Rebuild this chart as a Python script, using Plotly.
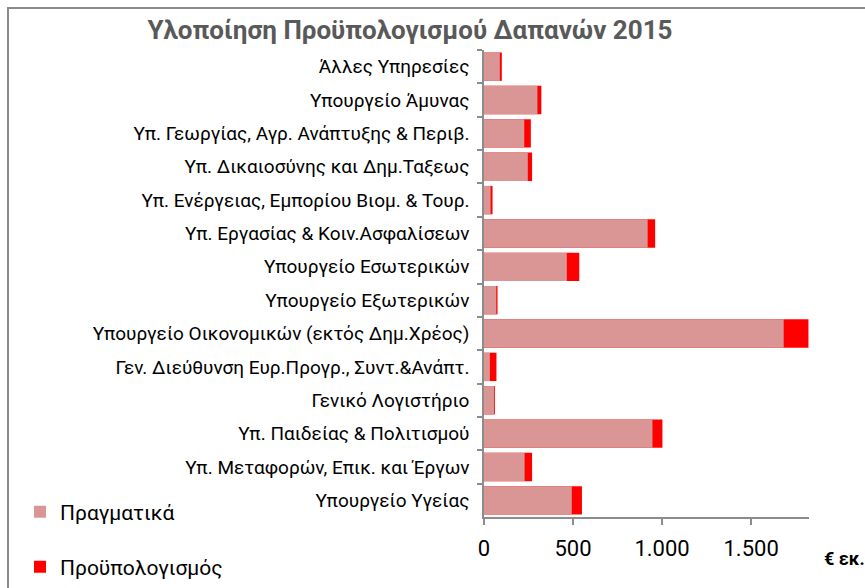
import plotly.graph_objects as go

categories = [
    "Άλλες Υπηρεσίες",
    "Υπουργείο Άμυνας",
    "Υπ. Γεωργίας, Αγρ. Ανάπτυξης & Περιβ.",
    "Υπ. Δικαιοσύνης και Δημ.Ταξεως",
    "Υπ. Ενέργειας, Εμπορίου Βιομ. & Τουρ.",
    "Υπ. Εργασίας & Κοιν.Ασφαλίσεων",
    "Υπουργείο Εσωτερικών",
    "Υπουργείο Εξωτερικών",
    "Υπουργείο Οικονομικών (εκτός Δημ.Χρέος)",
    "Γεν. Διεύθυνση Ευρ.Προγρ., Συντ.&Ανάπτ.",
    "Γενικό Λογιστήριο",
    "Υπ. Παιδείας & Πολιτισμού",
    "Υπ. Μεταφορών, Επικ. και Έργων",
    "Υπουργείο Υγείας",
]
actual = [89, 300, 226, 246, 37, 919, 465, 69, 1683, 33, 56, 946, 228, 493]
budget = [100, 322, 263, 270, 48, 961, 535, 76, 1822, 70, 61, 1002, 270, 550]
x_tickvals = [0, 500, 1000, 1500]
x_ticktext = ["0", "500", "1.000", "1.500"]

FONT = "Roboto"
AXIS = "#8c8c8c"

fig = go.Figure()
fig.add_trace(go.Bar(
    y=categories, x=budget, orientation="h", name="Προϋπολογισμός",
    marker=dict(color="#FF0000", line=dict(width=0)), legend="legend2",
))
fig.add_trace(go.Bar(
    y=categories, x=actual, orientation="h", name="Πραγματικά",
    marker=dict(color="#D99694", line=dict(width=0)), legend="legend",
))

L, R, T, B = 484, 56, 50, 71
W, H = 865, 588
pw = W - L - R
ph = H - T - B

def px_x(p):
    return (p - L) / pw

def px_y(p):
    return 1 - (p - T) / ph

fig.update_layout(
    width=W, height=H,
    margin=dict(l=L, r=R, t=T, b=B, autoexpand=False),
    paper_bgcolor="white", plot_bgcolor="white",
    barmode="overlay", bargap=0.15,
    font=dict(family=FONT, color="#000000"),
    title=dict(
        text="<b>Υλοποίηση Προϋπολογισμού Δαπανών 2015</b>",
        font=dict(size=26, color="#595959", family=FONT),
        x=410 / W, xanchor="center", xref="container",
        y=1 - 30 / H, yanchor="middle", yref="container",
    ),
    xaxis=dict(
        range=[0, 1825], tickvals=x_tickvals, ticktext=x_ticktext,
        showgrid=False, zeroline=False, showline=True, linecolor=AXIS, linewidth=1.5,
        ticks="outside", ticklen=6, tickcolor=AXIS, tickwidth=1.5,
        tickfont=dict(size=22, family=FONT), ticklabelstandoff=5,
    ),
    yaxis=dict(
        autorange="reversed", showgrid=False, zeroline=False,
        showline=True, linecolor=AXIS, linewidth=1.5,
        ticks="outside", ticklen=5, tickcolor=AXIS, tickwidth=1.5,
        tickson="boundaries", tickfont=dict(size=19, family=FONT),
        ticklabelstandoff=9,
    ),
    legend=dict(
        x=px_x(20), y=px_y(512), xanchor="left", yanchor="middle",
        font=dict(size=21, family=FONT), bgcolor="rgba(0,0,0,0)",
    ),
    legend2=dict(
        x=px_x(20), y=px_y(567), xanchor="left", yanchor="middle",
        font=dict(size=21, family=FONT), bgcolor="rgba(0,0,0,0)",
    ),
    showlegend=True,
)

fig.add_annotation(
    text="<b>€ εκ.</b>", xref="paper", yref="paper",
    x=px_x(822), y=px_y(558), xanchor="left", yanchor="middle",
    showarrow=False, font=dict(size=18, family=FONT, color="#000000"),
)

# outer chart border (top and left visible)
fig.add_shape(type="line", xref="paper", yref="paper",
              x0=px_x(7), x1=px_x(866), y0=px_y(8), y1=px_y(8),
              line=dict(color="#8a8a8a", width=2))
fig.add_shape(type="line", xref="paper", yref="paper",
              x0=px_x(8), x1=px_x(8), y0=px_y(8), y1=px_y(590),
              line=dict(color="#8a8a8a", width=2))

fig.write_html(
    "out.html",
    config={"displayModeBar": False},
    post_script="document.body.style.margin='0';document.body.style.padding='0';",
)
